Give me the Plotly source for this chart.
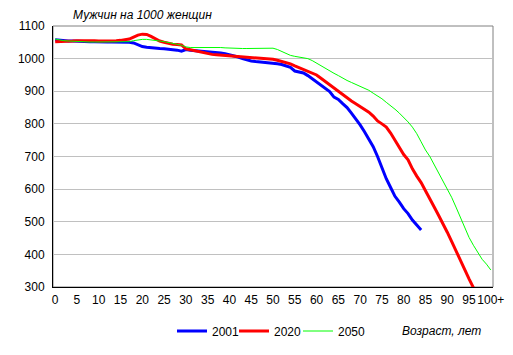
import plotly.graph_objects as go

ages_ticks = list(range(0, 101, 5))
tick_text = [str(a) for a in ages_ticks[:-1]] + ["100+"]

men_2001 = [1058, 1056, 1055, 1054, 1054, 1053, 1053, 1052, 1052, 1052,
            1051, 1051, 1051, 1051, 1051, 1050, 1050, 1050, 1048, 1042,
            1037, 1035, 1033, 1032, 1031, 1030, 1029, 1028, 1026, 1023,
            1028, 1026, 1025, 1024, 1023, 1022, 1021, 1019, 1017, 1015,
            1012, 1010, 1005, 1000, 996, 993, 991, 990, 988, 986,
            985, 984, 982, 978, 973, 962, 958, 956, 948, 938,
            929, 920, 910, 899, 882, 875, 862, 850, 833, 816,
            797, 776, 755, 730, 700, 665, 632, 605, 578, 560,
            540, 525, 505, 490, 475]

men_2020 = [1052, 1052, 1053, 1053, 1054, 1055, 1055, 1057, 1056, 1055,
            1054, 1054, 1053, 1054, 1055, 1056, 1057, 1060, 1066, 1072,
            1075, 1074, 1068, 1060, 1054, 1050, 1046, 1044, 1043, 1042,
            1030, 1027, 1024, 1020, 1018, 1015, 1013, 1012, 1011, 1010,
            1009, 1008, 1007, 1006, 1005, 1004, 1002, 1001, 1000, 1000,
            998, 995, 992, 989, 984, 978, 972, 968, 962, 956,
            950, 940, 930, 919, 908, 898, 889, 880, 870, 862,
            854, 845, 836, 824, 809, 800, 790, 772, 750, 728,
            706, 690, 662, 640, 620, 595, 572, 545, 520, 495,
            468, 440, 410, 383, 355, 325, 298]

men_2050 = [1060, 1057, 1055, 1054, 1053, 1053, 1052, 1052, 1051, 1051,
            1051, 1050, 1050, 1050, 1050, 1050, 1051, 1052, 1055, 1058,
            1059, 1059, 1058, 1056, 1054, 1052, 1050, 1047, 1044, 1041,
            1036, 1034, 1034, 1034, 1035, 1036, 1036, 1035, 1034, 1033,
            1032, 1032, 1032, 1031, 1031, 1031, 1032, 1031, 1030, 1031,
            1032, 1028, 1022, 1016, 1010, 1007, 1004, 1002, 1000, 994,
            986, 978, 970, 961, 955, 948, 940, 933, 927, 921,
            915, 911, 903, 894, 886, 877, 866, 856, 845, 833,
            820, 806, 790, 770, 745, 720, 700, 675, 650, 625,
            600, 575, 545, 515, 485, 452, 428, 405, 385, 370,
            352]

series = [("2001", men_2001, "#0000FF", 3, "legend"),
          ("2020", men_2020, "#FF0000", 3, "legend2"),
          ("2050", men_2050, "#00FF00", 1, "legend3")]

fig = go.Figure()
for name, vals, color, w, lg in series:
    fig.add_trace(go.Scatter(x=list(range(len(vals))), y=vals, mode="lines",
                             name=name, line=dict(color=color, width=w), legend=lg))

font = dict(family="Liberation Sans, Arial, sans-serif", size=12, color="black")

legend_y = -(331 - 287) / 261


def leg(px):
    return dict(orientation="h", x=(px - 53) / 440, xanchor="left", y=legend_y,
                yanchor="middle", font=font, bgcolor="rgba(0,0,0,0)", itemwidth=30)


fig.update_layout(
    width=505, height=347,
    margin=dict(l=45, r=20, t=18, b=68, autoexpand=False),
    paper_bgcolor="white", plot_bgcolor="white",
    font=font,
    showlegend=True,
    legend=leg(172), legend2=leg(234), legend3=leg(298),
    xaxis=dict(range=[-0.5, 100.5], tickvals=ages_ticks, ticktext=tick_text,
               showgrid=False, zeroline=False, showline=True, linecolor="black",
               linewidth=1, ticks="", tickfont=font, tickangle=0, automargin=False,
               ticklabelstandoff=2),
    yaxis=dict(range=[300, 1100], dtick=100, showgrid=True, gridcolor="#C0C0C0",
               gridwidth=1, zeroline=False, showline=True, linecolor="black",
               linewidth=1, ticks="", tickfont=font, ticklabelstandoff=5,
               automargin=False),
    shapes=[dict(type="rect", xref="paper", yref="paper", x0=0, x1=1, y0=0, y1=1,
                 line=dict(color="#808080", width=1), layer="below")],
    annotations=[
        dict(text="<i>Мужчин на 1000 женщин</i>", xref="paper", yref="paper",
             x=(71 - 53) / 440, y=1.0, xanchor="left", yanchor="bottom", yshift=2,
             showarrow=False, font=font),
        dict(text="<i>Возраст, лет</i>", xref="paper", yref="paper",
             x=(400 - 53) / 440, y=legend_y, xanchor="left", yanchor="middle",
             showarrow=False, font=font),
    ],
)

fig.write_html("out.html")
